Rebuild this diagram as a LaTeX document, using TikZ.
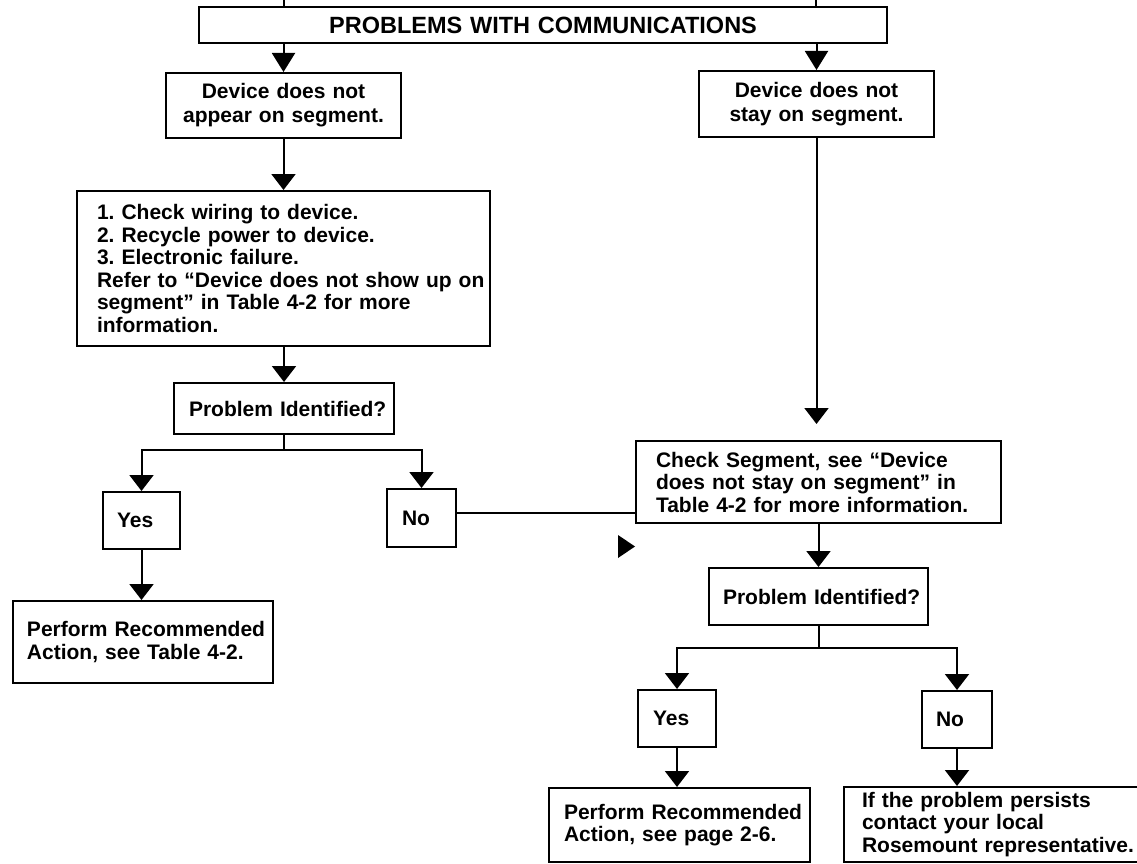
\documentclass[tikz,border=0pt]{standalone}
\usepackage{fontspec}
\setmainfont{Liberation Sans}
\usetikzlibrary{arrows.meta}
\hfuzz=200pt
\frenchspacing
\begin{document}
\begin{tikzpicture}[x=1pt,y=-1pt,
  box/.style={draw, line width=2pt, inner ysep=0pt, align=left,
    font=\bfseries\frenchspacing\fontsize{21}{22.5}\selectfont},
  flow/.style={line width=2pt, -{Triangle[length=16pt,width=24pt]}},
  bigflow/.style={line width=2pt, -{Triangle[length=19pt,width=23pt]}},
  link/.style={line width=2pt}]
\useasboundingbox (0,0) rectangle (1137,864);

% boxes
\node[box, minimum width=688pt, minimum height=36pt, text width=660pt, inner xsep=14pt, align=center,
  font=\bfseries\fontsize{23.5}{25}\selectfont] (title) at (543,25) {PROBLEMS WITH COMMUNICATIONS};
\node[box, minimum width=235pt, minimum height=65pt, text width=215pt, inner xsep=10pt, align=center,
  font=\bfseries\frenchspacing\fontsize{21}{24}\selectfont] (A) at (283.5,105.5) {Device does not\\appear on segment.};
\node[box, minimum width=235pt, minimum height=66pt, text width=215pt, inner xsep=10pt, align=center,
  font=\bfseries\frenchspacing\fontsize{21}{24}\selectfont] (B) at (816.5,104) {Device does not\\stay on segment.};
\node[box, minimum width=413pt, minimum height=155pt, text width=373pt, inner xsep=20pt] (C) at (283.5,268.5)
  {\mbox{1. Check wiring to device.}\\\mbox{2. Recycle power to device.}\\\mbox{3. Electronic failure.}\\\mbox{Refer to “Device does not show up on}\\\mbox{segment” in Table 4-2 for more}\\\mbox{information.}};
\node[box, minimum width=220pt, minimum height=51pt, text width=190pt, inner xsep=15pt] (P1) at (284,408.5)
  {\mbox{Problem Identified?}};
\node[box, minimum width=77pt, minimum height=57pt, text width=49pt, inner xsep=14pt] (YesL) at (141.5,520.5) {Yes};
\node[box, minimum width=69pt, minimum height=58pt, text width=39pt, inner xsep=15pt] (NoL) at (421.5,518) {No};
\node[box, minimum width=260pt, minimum height=82pt, text width=232pt, inner xsep=14pt] (H) at (143,642)
  {\mbox{Perform Recommended}\\\mbox{Action, see Table 4-2.}};
\node[box, minimum width=365pt, minimum height=82pt, text width=325pt, inner xsep=20pt] (D) at (818.5,482)
  {\mbox{Check Segment, see “Device}\\\mbox{does not stay on segment” in}\\\mbox{Table 4-2 for more information.}};
\node[box, minimum width=219pt, minimum height=57pt, text width=191pt, inner xsep=14pt] (P2) at (818.5,596.5)
  {\mbox{Problem Identified?}};
\node[box, minimum width=78pt, minimum height=57pt, text width=48pt, inner xsep=15pt] (YesR) at (677,718.5) {Yes};
\node[box, minimum width=70pt, minimum height=57pt, text width=42pt, inner xsep=14pt] (NoR) at (957,719.5) {No};
\node[box, minimum width=261pt, minimum height=74pt, text width=231pt, inner xsep=15pt] (F) at (679.5,825)
  {\mbox{Perform Recommended}\\\mbox{Action, see page 2-6.}};
\node[box, minimum width=306pt, minimum height=75pt, text width=270pt, inner xsep=18pt] (G) at (997,824.5)
  {\mbox{If the problem persists}\\\mbox{contact your local}\\\mbox{Rosemount representative.}};

% stubs at the top
\coordinate (s1) at (284,0);
\coordinate (s2) at (816,0);
\draw[link] (s1) -- (s1 |- title.north);
\draw[link] (s2) -- (s2 |- title.north);

% connectors
\draw[bigflow] (title.south -| A.north) -- (A.north);
\draw[bigflow] (title.south -| B.north) -- (B.north);
\draw[flow] (A.south) -- (A.south |- C.north);
\coordinate (tBD) at (817,424);
\draw[flow] (B.south) -- (B.south |- tBD);
\draw[flow] (C.south -| P1.north) -- (P1.north);

\coordinate (j1) at (284,450);
\draw[link] (P1.south) -- (j1);
\draw[flow] (j1) -| (YesL.north);
\draw[flow] (j1) -| (NoL.north);
\draw[flow] (YesL.south) -- (YesL.south |- H.north);
\draw[link] ([yshift=5pt]NoL.east) -- ([yshift=5pt]NoL.east -| D.west);

\draw[flow] (D.south) -- (P2.north);
\coordinate (j2) at (818.5,648);
\draw[link] (P2.south) -- (j2);
\draw[flow] (j2) -| (YesR.north);
\draw[flow] (j2) -| (NoR.north);
\draw[flow] (YesR.south) -- (YesR.south |- F.north);
\draw[flow] (NoR.south) -- (NoR.south |- G.north);

% stray arrowhead
\fill (618,535) -- (635,546.5) -- (618,558) -- cycle;
\end{tikzpicture}
\end{document}
